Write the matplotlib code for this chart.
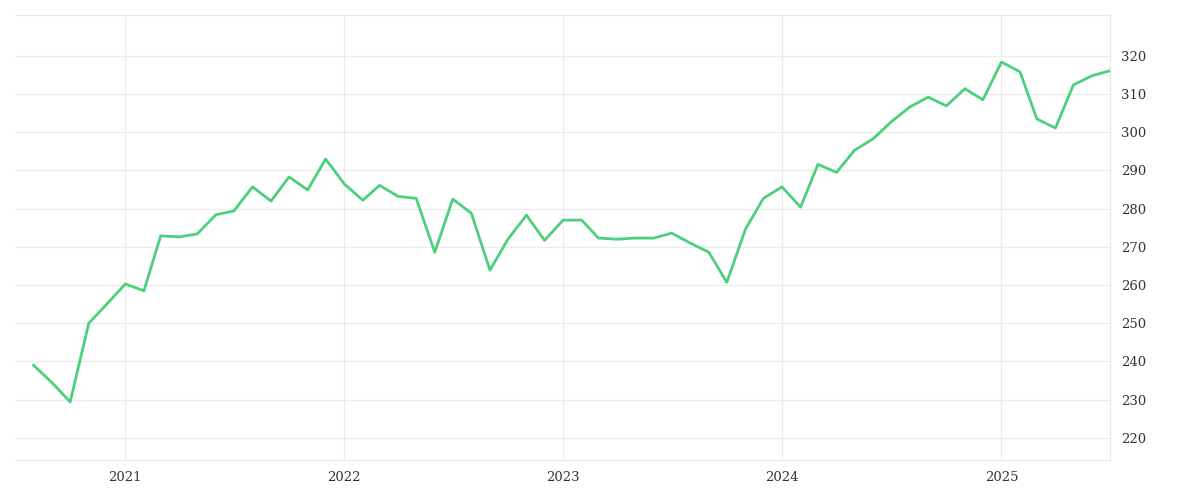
import numpy as np
import pandas as pd
import matplotlib
matplotlib.use('Agg')
import matplotlib.pyplot as plt

# monthly values, Aug 2020 .. Jul 2025
months = pd.date_range('2020-08-01', periods=60, freq='MS')
values = [239, 234.4, 229.4, 250, 255,
          260.3, 258.5, 272.9, 272.6, 273.4, 278.4, 279.4, 285.7, 282, 288.3, 284.9, 293,
          286.5, 282.2, 286.1, 283.2, 282.7, 268.6, 282.5, 278.8, 263.9, 272, 278.3, 271.7,
          277, 277, 272.3, 272, 272.3, 272.3, 273.6, 271, 268.6, 260.7, 274.6, 282.7,
          285.7, 280.4, 291.6, 289.5, 295.3, 298.3, 302.7, 306.6, 309.2, 306.9, 311.4, 308.5,
          318.4, 315.8, 303.5, 301.1, 312.4, 314.8, 316.1]
year_ticks = ['2021', '2022', '2023', '2024', '2025']

fig = plt.figure(figsize=(12, 5), dpi=100)
ax = fig.add_axes([0.0125, 0.08, 0.9125, 0.89])
ax.plot(months, values, color='#4cd07d', lw=2.0)

ax.set_xlim(pd.Timestamp('2020-07-01'), months[-1])
ax.set_ylim(214.2, 330.7)
ax.set_xticks([pd.Timestamp(y + '-01-01') for y in year_ticks])
ax.set_xticklabels(year_ticks)
ax.set_yticks(np.arange(220, 321, 10))
ax.yaxis.tick_right()
ax.grid(True, color='#ececec', lw=0.8)
ax.spines['left'].set_visible(False)
for s in ['top', 'bottom', 'right']:
    ax.spines[s].set_color('#e8e8e8')
    ax.spines[s].set_linewidth(0.8)
ax.tick_params(length=0, labelsize=9.5, labelcolor='#333333', pad=8)
for lab in ax.get_xticklabels() + ax.get_yticklabels():
    lab.set_family('DejaVu Serif')

fig.savefig('out.png')
